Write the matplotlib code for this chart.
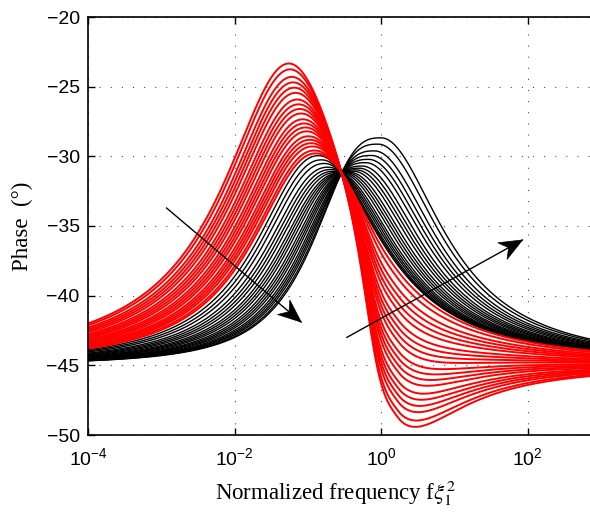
import numpy as np
import matplotlib
matplotlib.use('Agg')
import matplotlib.pyplot as plt
from matplotlib.patches import Polygon
from matplotlib.transforms import IdentityTransform

# --- values ---
x_ticks = [1e-4, 1e-2, 1e0, 1e2]
x_tick_labels = [r'$\mathdefault{10^{-4}}$', r'$\mathdefault{10^{-2}}$',
                 r'$\mathdefault{10^{0}}$', r'$\mathdefault{10^{2}}$']
y_ticks = [-50, -45, -40, -35, -30, -25, -20]
logf_range = (-4.0, 2.85)

phase_floor = -45.0                      # both ends of every curve
cross_logf, cross_phase = -0.54, -31.2   # point all the curves go through

# black family: log10 of the frequency of each curve's maximum
black_peak_logf = [-0.85, -0.81, -0.77, -0.72, -0.68, -0.64, -0.60, -0.55,
                   -0.51, -0.47, -0.43, -0.38, -0.34, -0.30, -0.26, -0.21,
                   -0.17, -0.13, -0.09, -0.04, 0.00]
# red family: phase at the maximum of each curve
red_peak_phase = [-23.4, -23.7, -24.1, -24.4, -24.7, -25.0, -25.4, -25.7,
                  -26.0, -26.3, -26.7, -27.0, -27.3, -27.6, -28.0, -28.3,
                  -28.6, -28.9, -29.3, -29.6]

# arrows (frequency, phase)
arrow_left = ((10**-2.93, -33.7), (10**-1.09, -41.9))
arrow_right = ((10**-0.47, -43.0), (10**1.93, -36.0))


def side(d, w, p):
    return 1.0 / (1.0 + np.abs(d / w)**p)


def bump(u, c, wl, pl, wr, pr):
    return np.where(u < c, side(u - c, wl, pl), side(u - c, wr, pr))


def draw_arrow(ax, start, end, head_len=23, head_w=9.5, notch=16):
    ax.annotate('', xy=end, xytext=start,
                arrowprops=dict(arrowstyle='-', color='black', lw=1.0,
                                shrinkA=0, shrinkB=0))
    p0 = ax.transData.transform(start)
    p1 = ax.transData.transform(end)
    d = (p1 - p0) / np.hypot(*(p1 - p0))
    n = np.array([-d[1], d[0]])
    base = p1 - head_len*d
    pts = [p1, base + head_w*n, p1 - notch*d, base - head_w*n]
    ax.add_patch(Polygon(pts, closed=True, facecolor='black', edgecolor='black',
                         lw=0.5, transform=IdentityTransform(), zorder=5))


u = np.linspace(logf_range[0], logf_range[1], 800)
f = 10**u
d0 = cross_phase - phase_floor
u0 = np.array([cross_logf])

fig = plt.figure(figsize=(5.9, 5.17), dpi=100)
plt.rcParams['font.family'] = 'Liberation Sans'
plt.rcParams['mathtext.fontset'] = 'stix'
ax = fig.add_axes([88/590, 82/517, 502/590, 418/517])

# black curves
for c in black_peak_logf:
    t = (c - black_peak_logf[0]) / (black_peak_logf[-1] - black_peak_logf[0])
    wl, pl = 1.0 - 0.01*t, 2.2 + 0.6*t
    shape = bump(u, c, wl, pl, 1.03, 2.0)
    amp = d0 / bump(u0, c, wl, pl, 1.03, 2.0)[0]
    ax.plot(f, phase_floor + amp*shape, color='black', lw=1.0)

# red curves
hi, lo = max(red_peak_phase), min(red_peak_phase)
neg_par = (0.25, 0.5, 4.0, 1.1, 1.65)
for pk in red_peak_phase:
    t = (hi - pk) / (hi - lo)      # 1 = highest peak / deepest dip
    cp = -0.88 - 0.37*t
    wpl, ppl, wpr = 1.02 + 0.08*t, 2.2 - 0.2*t, 1.1
    n_amp = 0.8 + 10.7*t
    pos = bump(u, cp, wpl, ppl, wpr, 2.0)
    neg = bump(u, *neg_par)
    pos0 = bump(u0, cp, wpl, ppl, wpr, 2.0)[0]
    neg0 = bump(u0, *neg_par)[0]
    p_amp = (d0 + n_amp*neg0) / pos0
    ax.plot(f, phase_floor + p_amp*pos - n_amp*neg, color='red', lw=1.4)

ax.set_xscale('log')
ax.set_xlim(10**logf_range[0], 10**logf_range[1])
ax.set_ylim(-50, -20)
ax.set_xticks(x_ticks)
ax.set_xticklabels(x_tick_labels)
ax.set_yticks(y_ticks)
ax.minorticks_off()
ax.tick_params(direction='in', length=5, width=1, top=True, right=False,
               labelsize=14, pad=6)
ax.tick_params(axis='x', pad=9)
ax.grid(True, color='0.3', lw=0.8, linestyle=(0, (1, 9)))
ax.set_axisbelow(True)
for s in ['left', 'bottom', 'top']:
    ax.spines[s].set_linewidth(1.2)
ax.spines['right'].set_visible(False)

for start, end in [arrow_left, arrow_right]:
    draw_arrow(ax, start, end)

ax.set_xlabel(r'Normalized frequency f$\xi_1^2$', fontsize=16.5,
              fontfamily='Liberation Serif')
ax.xaxis.set_label_coords(0.492, -0.105)
ax.set_ylabel('Phase  (°)', fontsize=16.5, fontfamily='Liberation Serif')
ax.yaxis.set_label_coords(-0.11, 0.5)

fig.savefig('out.png', dpi=100)
